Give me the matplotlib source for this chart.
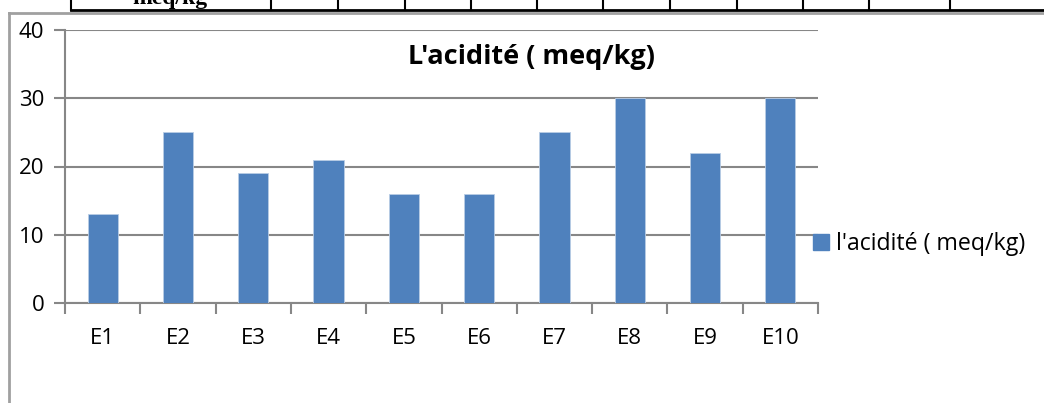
import matplotlib.pyplot as plt
import numpy as np
from matplotlib.lines import Line2D

categories = ["E1", "E2", "E3", "E4", "E5", "E6", "E7", "E8", "E9", "E10"]
acidite = [13, 25, 19, 21, 16, 16, 25, 30, 22, 30]
y_ticks = [0, 10, 20, 30, 40]

# table column lines seen at the top of the crop (pixel x positions)
table_cols = [71, 271, 338, 405, 471, 537, 603, 670, 737, 803, 869, 950]

W, H = 1044, 403
plt.rcParams['font.family'] = ['Open Sans', 'DejaVu Sans']
fig = plt.figure(figsize=(W / 100, H / 100), dpi=100)

blue = "#4F81BD"
grid_c = "#878787"

ax = fig.add_axes([65 / W, 1 - 303 / H, (818 - 65) / W, (303 - 30) / H])
x = np.arange(len(categories))
ax.bar(x, acidite, width=0.4, color=blue, edgecolor="#B9CDE5", linewidth=0.6,
       label="l'acidité ( meq/kg)", zorder=3)
ax.set_xlim(-0.5, len(categories) - 0.5)
ax.set_ylim(0, 40)
ax.set_yticks(y_ticks)
ax.yaxis.grid(True, color=grid_c, linewidth=1.5, zorder=0)
for s in ["top", "right"]:
    ax.spines[s].set_visible(False)
for s in ["left", "bottom"]:
    ax.spines[s].set_color(grid_c)
    ax.spines[s].set_linewidth(1.5)

ax.set_xticks(np.arange(-0.5, len(categories), 1.0))
ax.set_xticklabels([])
ax.set_xticks(x, minor=True)
ax.set_xticklabels(categories, minor=True)
ax.tick_params(axis="x", which="major", length=8, width=1.5, color=grid_c)
ax.tick_params(axis="x", which="minor", length=0, pad=18, labelsize=16)
ax.tick_params(axis="y", length=8, width=1.5, color=grid_c, labelsize=16, pad=7)

ax.set_title("L'acidité ( meq/kg)", fontsize=19.5, fontweight="bold", x=0.62, y=0.845)

handle = Line2D([], [], marker="s", linestyle="none", color=blue, markersize=11)
fig.legend([handle], ["l'acidité ( meq/kg)"], loc="center left",
           bbox_to_anchor=(798 / W, 1 - 244 / H), frameon=False, fontsize=16.7,
           handletextpad=0.05, handlelength=1.2, borderaxespad=0)

# chart frame
fig.add_artist(Line2D([9 / W, 9 / W], [0, 1 - 13 / H], color="#A0A0A0", linewidth=2))
fig.add_artist(Line2D([9 / W, 1], [1 - 13 / H, 1 - 13 / H], color="#A0A0A0", linewidth=2))

# cropped table above the chart
fig.add_artist(Line2D([71 / W, 1], [1 - 10 / H, 1 - 10 / H], color="black", linewidth=2))
for cx in table_cols:
    fig.add_artist(Line2D([cx / W, cx / W], [1 - 10 / H, 1], color="black", linewidth=1.5))
fig.text(170 / W, 1 - 4 / H, "meq/kg", family="Liberation Serif", fontweight="bold",
         fontsize=17, ha="center", va="baseline")

fig.savefig("out.png", dpi=100)
